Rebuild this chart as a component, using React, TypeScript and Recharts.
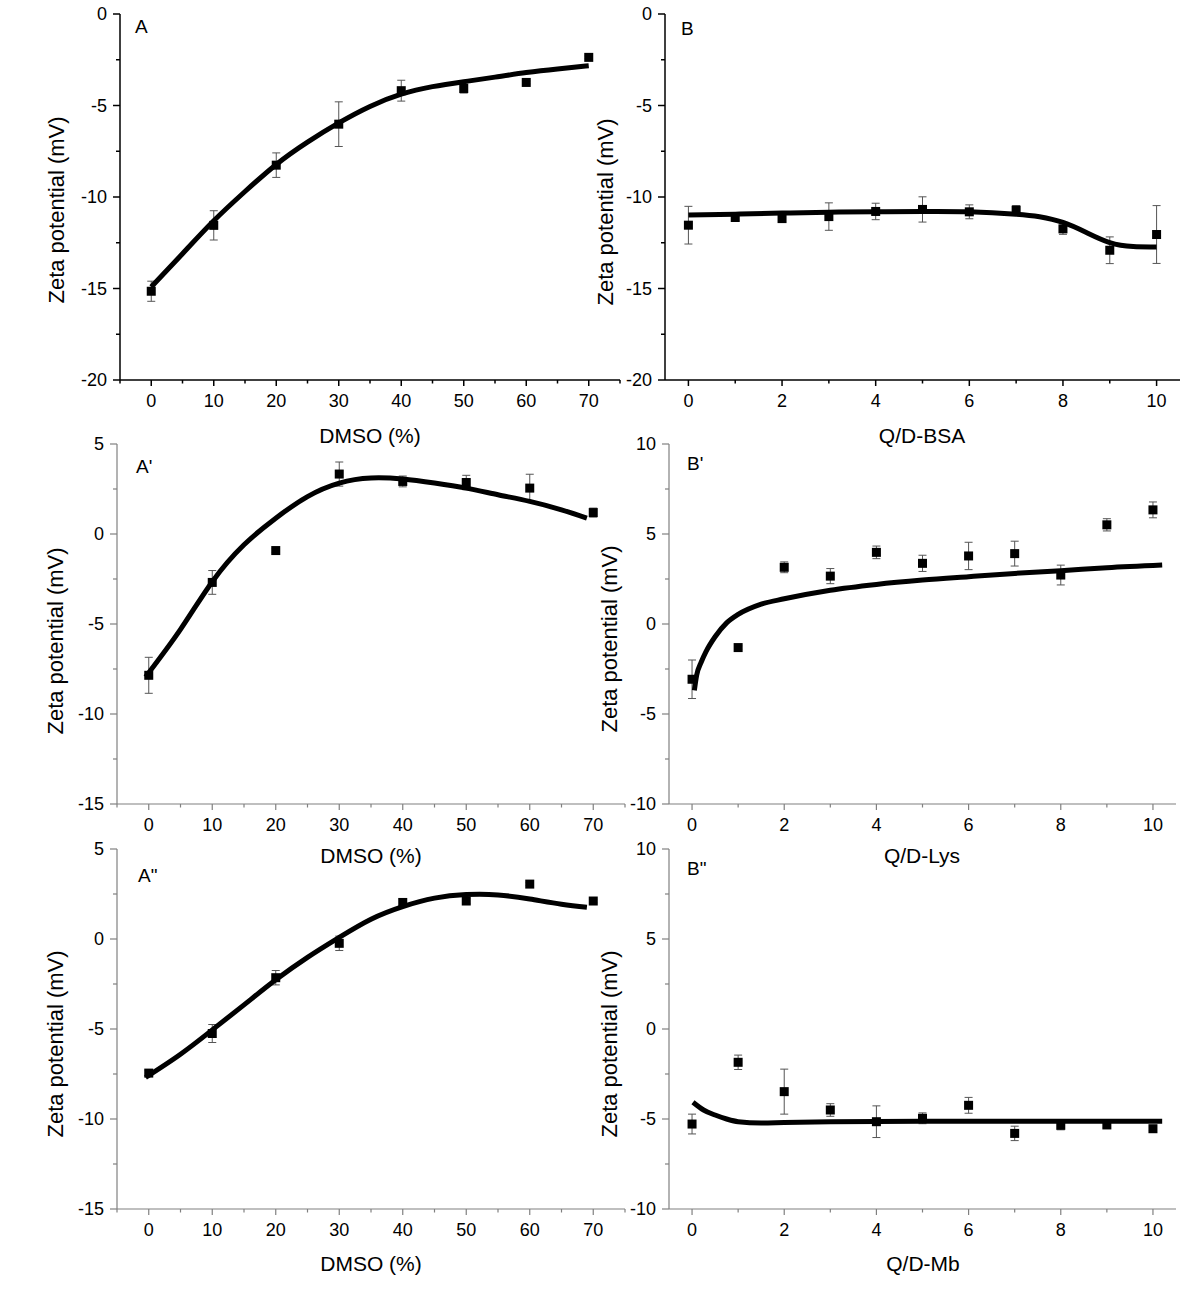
import React from 'react';
import { ComposedChart, Scatter, Line, XAxis, YAxis, ErrorBar } from 'recharts';

const FONT = '"Liberation Sans", Arial, Helvetica, sans-serif';

// ---------- DATA ----------
// Panel A: DMSO (%) vs zeta potential
const dmsoA = [0, 10, 20, 30, 40, 50, 60, 70];
const zetaA = [-15.15, -11.55, -8.26, -6.02, -4.19, -4.07, -3.74, -2.37];
const errA = [0.55, 0.8, 0.67, 1.22, 0.57, 0.25, 0.08, 0.08];
const fitAX = [0, 5, 10, 15, 20, 25, 30, 35, 40, 45, 50, 55, 60, 65, 70];
const fitAY = [-14.91, -13.1, -11.3, -9.7, -8.22, -7.0, -5.95, -5.05, -4.38, -3.97, -3.7, -3.45, -3.2, -3.0, -2.83];

// Panel B: Q/D-BSA
const qdB = [0, 1, 2, 3, 4, 5, 6, 7, 8, 9, 10];
const zetaB = [-11.54, -11.12, -11.18, -11.07, -10.79, -10.68, -10.81, -10.72, -11.74, -12.91, -12.05];
const errB = [1.03, 0.15, 0.15, 0.75, 0.45, 0.69, 0.38, 0.25, 0.3, 0.73, 1.58];
const fitBX = [0, 1, 2, 3, 4, 5, 6, 7, 7.5, 8, 8.5, 9, 9.5, 10];
const fitBY = [-10.98, -10.94, -10.88, -10.83, -10.81, -10.79, -10.81, -10.94, -11.08, -11.39, -11.94, -12.49, -12.71, -12.73];

// Panel A': DMSO (%)
const dmsoA1 = [0, 10, 20, 30, 40, 50, 60, 70];
const zetaA1 = [-7.85, -2.69, -0.92, 3.33, 2.92, 2.86, 2.55, 1.19];
const errA1 = [1.0, 0.66, 0.1, 0.67, 0.3, 0.4, 0.77, 0.25];
const fitA1X = [-0.5, 5, 10, 15, 20, 25, 30, 35, 40, 45, 50, 55, 60, 65, 69];
const fitA1Y = [-7.94, -5.3, -2.65, -0.6, 0.88, 2.08, 2.83, 3.11, 3.05, 2.83, 2.55, 2.18, 1.81, 1.34, 0.88];

// Panel B': Q/D-Lys
const qdB1 = [0, 1, 2, 3, 4, 5, 6, 7, 8, 9, 10];
const zetaB1 = [-3.07, -1.31, 3.15, 2.66, 3.98, 3.37, 3.78, 3.91, 2.72, 5.51, 6.34];
const errB1 = [1.07, 0.1, 0.3, 0.42, 0.35, 0.45, 0.76, 0.69, 0.55, 0.34, 0.44];
const fitB1X = [0.05, 0.1, 0.2, 0.3, 0.5, 0.75, 1, 1.5, 2, 3, 4, 5, 6, 7, 8, 9, 10.2];
const fitB1Y = [-3.69, -2.85, -2.11, -1.55, -0.71, 0.06, 0.53, 1.1, 1.4, 1.88, 2.2, 2.44, 2.63, 2.81, 2.96, 3.13, 3.28];

// Panel A'': DMSO (%)
const dmsoA2 = [0, 10, 20, 30, 40, 50, 60, 70];
const zetaA2 = [-7.45, -5.25, -2.15, -0.24, 2.03, 2.11, 3.05, 2.11];
const errA2 = [0.15, 0.5, 0.4, 0.4, 0.2, 0.15, 0.08, 0.1];
const fitA2X = [-0.5, 5, 10, 15, 20, 25, 30, 35, 40, 45, 50, 55, 60, 65, 69];
const fitA2Y = [-7.69, -6.4, -5.05, -3.66, -2.27, -1.02, 0.09, 1.1, 1.8, 2.27, 2.47, 2.45, 2.22, 1.93, 1.76];

// Panel B'': Q/D-Mb
const qdB2 = [0, 1, 2, 3, 4, 5, 6, 7, 8, 9, 10];
const zetaB2 = [-5.28, -1.85, -3.48, -4.5, -5.15, -4.96, -4.24, -5.8, -5.35, -5.33, -5.54];
const errB2 = [0.55, 0.4, 1.25, 0.35, 0.88, 0.3, 0.44, 0.4, 0.25, 0.15, 0.1];
const fitB2X = [0.02, 0.25, 0.5, 0.75, 1, 1.5, 2, 3, 5, 10.2];
const fitB2Y = [-4.07, -4.5, -4.78, -5.0, -5.15, -5.22, -5.19, -5.15, -5.12, -5.12];

// Ticks
const dmsoTicks = [-5, 0, 5, 10, 15, 20, 25, 30, 35, 40, 45, 50, 55, 60, 65, 70, 75];
const dmsoMajor = [0, 10, 20, 30, 40, 50, 60, 70];
const qdTicks = [0, 1, 2, 3, 4, 5, 6, 7, 8, 9, 10];
const qdMajor = [0, 2, 4, 6, 8, 10];
const yTicksTop = [-20, -17.5, -15, -12.5, -10, -7.5, -5, -2.5, 0];
const yMajorTop = [-20, -15, -10, -5, 0];
const yTicksA = [-15, -12.5, -10, -7.5, -5, -2.5, 0, 2.5, 5];
const yMajorA = [-15, -10, -5, 0, 5];
const yTicksB = [-10, -7.5, -5, -2.5, 0, 2.5, 5, 7.5, 10];
const yMajorB = [-10, -5, 0, 5, 10];

const yTitle = 'Zeta potential (mV)';

// ---------- helpers ----------
const toPts = (xs: number[], ys: number[], es?: number[]) =>
  xs.map((x, i) => (es ? { x, y: ys[i], err: es[i] } : { x, y: ys[i] }));

const makeXTick = (major: number[], color: string, sw: number) => (props: any) => {
  const { x, y, payload } = props;
  const v = payload.value;
  const isMajor = major.includes(v);
  return (
    <g>
      <line x1={x} x2={x} y1={y} y2={y + (isMajor ? 6 : 3.5)} stroke={color} strokeWidth={sw} />
      {isMajor && (
        <text x={x} y={y + 26.5} textAnchor="middle" fontSize={18} fontFamily={FONT} fill="#000">
          {v}
        </text>
      )}
    </g>
  );
};

const makeYTick = (major: number[], color: string, sw: number) => (props: any) => {
  const { x, y, payload } = props;
  const v = payload.value;
  const isMajor = major.includes(v);
  return (
    <g>
      <line x1={x} x2={x - (isMajor ? 7 : 4)} y1={y} y2={y} stroke={color} strokeWidth={sw} />
      {isMajor && (
        <text x={x - 13} y={y + 6.4} textAnchor="end" fontSize={18} fontFamily={FONT} fill="#000">
          {v}
        </text>
      )}
    </g>
  );
};

const Square = (props: any) => {
  const { cx, cy } = props;
  if (cx == null || cy == null) return null;
  return <rect x={cx - 4.5} y={cy - 4.5} width={9} height={9} fill="#000" />;
};

type PanelProps = {
  plot: { x0: number; x1: number; y0: number; y1: number };
  xDomain: [number, number];
  yDomain: [number, number];
  xTicks: number[];
  xMajor: number[];
  yTicks: number[];
  yMajor: number[];
  pts: any[];
  fit: any[];
  curve: 'natural' | 'monotone';
  axisColor: string;
  axisWidth: number;
};

const ML = 10;
const YW = 60;
const XH = 40;

function Panel({ plot, xDomain, yDomain, xTicks, xMajor, yTicks, yMajor, pts, fit, curve, axisColor, axisWidth }: PanelProps) {
  const w = plot.x1 - plot.x0 + ML + YW + 10;
  const h = plot.y1 - plot.y0 + 10 + XH + 10;
  return (
    <div style={{ position: 'absolute', left: plot.x0 - ML - YW, top: plot.y0 - 10 }}>
      <ComposedChart width={w} height={h} margin={{ top: 10, right: 10, bottom: 10, left: ML }}>
        <XAxis
          dataKey="x"
          type="number"
          domain={xDomain}
          ticks={xTicks}
          interval={0}
          height={XH}
          tickSize={0}
          tickMargin={0}
          tickLine={false}
          axisLine={{ stroke: axisColor, strokeWidth: axisWidth }}
          tick={makeXTick(xMajor, axisColor, axisWidth)}
          allowDataOverflow
        />
        <YAxis
          type="number"
          domain={yDomain}
          ticks={yTicks}
          interval={0}
          width={YW}
          tickSize={0}
          tickMargin={0}
          tickLine={false}
          axisLine={{ stroke: axisColor, strokeWidth: axisWidth }}
          tick={makeYTick(yMajor, axisColor, axisWidth)}
          allowDataOverflow
        />
        <Scatter data={pts} dataKey="y" shape={Square} isAnimationActive={false}>
          <ErrorBar dataKey="err" direction="y" width={4} stroke="#555" strokeWidth={1} />
        </Scatter>
        <Line
          data={fit}
          dataKey="y"
          type={curve}
          stroke="#000"
          strokeWidth={5}
          dot={false}
          activeDot={false}
          isAnimationActive={false}
          strokeLinejoin="round"
        />
      </ComposedChart>
    </div>
  );
}

const GRAY = '#808080';

export default function App() {
  return (
    <div style={{ position: 'absolute', left: 0, top: 0, width: 1200, height: 1292, background: '#fff' }}>
      <Panel
        plot={{ x0: 120, x1: 620, y0: 14, y1: 380 }}
        xDomain={[-5, 75]}
        yDomain={[-20, 0]}
        xTicks={dmsoTicks}
        xMajor={dmsoMajor}
        yTicks={yTicksTop}
        yMajor={yMajorTop}
        pts={toPts(dmsoA, zetaA, errA)}
        fit={toPts(fitAX, fitAY)}
        curve="natural"
        axisColor="#000"
        axisWidth={1.5}
      />
      <Panel
        plot={{ x0: 665, x1: 1180, y0: 14, y1: 380 }}
        xDomain={[-0.5, 10.5]}
        yDomain={[-20, 0]}
        xTicks={qdTicks}
        xMajor={qdMajor}
        yTicks={yTicksTop}
        yMajor={yMajorTop}
        pts={toPts(qdB, zetaB, errB)}
        fit={toPts(fitBX, fitBY)}
        curve="natural"
        axisColor="#000"
        axisWidth={1.5}
      />
      <Panel
        plot={{ x0: 117, x1: 625, y0: 444, y1: 804 }}
        xDomain={[-5, 75]}
        yDomain={[-15, 5]}
        xTicks={dmsoTicks}
        xMajor={dmsoMajor}
        yTicks={yTicksA}
        yMajor={yMajorA}
        pts={toPts(dmsoA1, zetaA1, errA1)}
        fit={toPts(fitA1X, fitA1Y)}
        curve="natural"
        axisColor={GRAY}
        axisWidth={1.2}
      />
      <Panel
        plot={{ x0: 669, x1: 1176, y0: 444, y1: 804 }}
        xDomain={[-0.5, 10.5]}
        yDomain={[-10, 10]}
        xTicks={qdTicks}
        xMajor={qdMajor}
        yTicks={yTicksB}
        yMajor={yMajorB}
        pts={toPts(qdB1, zetaB1, errB1)}
        fit={toPts(fitB1X, fitB1Y)}
        curve="monotone"
        axisColor={GRAY}
        axisWidth={1.2}
      />
      <Panel
        plot={{ x0: 117, x1: 625, y0: 849, y1: 1209 }}
        xDomain={[-5, 75]}
        yDomain={[-15, 5]}
        xTicks={dmsoTicks}
        xMajor={dmsoMajor}
        yTicks={yTicksA}
        yMajor={yMajorA}
        pts={toPts(dmsoA2, zetaA2, errA2)}
        fit={toPts(fitA2X, fitA2Y)}
        curve="natural"
        axisColor={GRAY}
        axisWidth={1.2}
      />
      <Panel
        plot={{ x0: 669, x1: 1176, y0: 849, y1: 1209 }}
        xDomain={[-0.5, 10.5]}
        yDomain={[-10, 10]}
        xTicks={qdTicks}
        xMajor={qdMajor}
        yTicks={yTicksB}
        yMajor={yMajorB}
        pts={toPts(qdB2, zetaB2, errB2)}
        fit={toPts(fitB2X, fitB2Y)}
        curve="monotone"
        axisColor={GRAY}
        axisWidth={1.2}
      />
      <svg
        width={1200}
        height={1292}
        style={{ position: 'absolute', left: 0, top: 0, pointerEvents: 'none' }}
        fontFamily={FONT}
      >
        {/* x-axis titles */}
        <text x={370} y={442.5} fontSize={21} textAnchor="middle" fill="#000">DMSO (%)</text>
        <text x={922} y={442.5} fontSize={21} textAnchor="middle" fill="#000">Q/D-BSA</text>
        <text x={371} y={862.5} fontSize={21} textAnchor="middle" fill="#000">DMSO (%)</text>
        <text x={922} y={862.5} fontSize={21} textAnchor="middle" fill="#000">Q/D-Lys</text>
        <text x={371} y={1270.5} fontSize={21} textAnchor="middle" fill="#000">DMSO (%)</text>
        <text x={923} y={1270.5} fontSize={21} textAnchor="middle" fill="#000">Q/D-Mb</text>
        {/* y-axis titles */}
        <text transform="translate(64,210) rotate(-90)" fontSize={22} textAnchor="middle" fill="#000">{yTitle}</text>
        <text transform="translate(613,212) rotate(-90)" fontSize={22} textAnchor="middle" fill="#000">{yTitle}</text>
        <text transform="translate(63,641) rotate(-90)" fontSize={22} textAnchor="middle" fill="#000">{yTitle}</text>
        <text transform="translate(617,639) rotate(-90)" fontSize={22} textAnchor="middle" fill="#000">{yTitle}</text>
        <text transform="translate(63,1044) rotate(-90)" fontSize={22} textAnchor="middle" fill="#000">{yTitle}</text>
        <text transform="translate(617,1044) rotate(-90)" fontSize={22} textAnchor="middle" fill="#000">{yTitle}</text>
        {/* panel letters */}
        <text x={135} y={33} fontSize={19} fill="#000">A</text>
        <text x={681} y={35} fontSize={19} fill="#000">B</text>
        <text x={136} y={473} fontSize={19} fill="#000">A'</text>
        <text x={687} y={470} fontSize={19} fill="#000">B'</text>
        <text x={138} y={882} fontSize={19} fill="#000">A"</text>
        <text x={687} y={875} fontSize={19} fill="#000">B"</text>
      </svg>
    </div>
  );
}
